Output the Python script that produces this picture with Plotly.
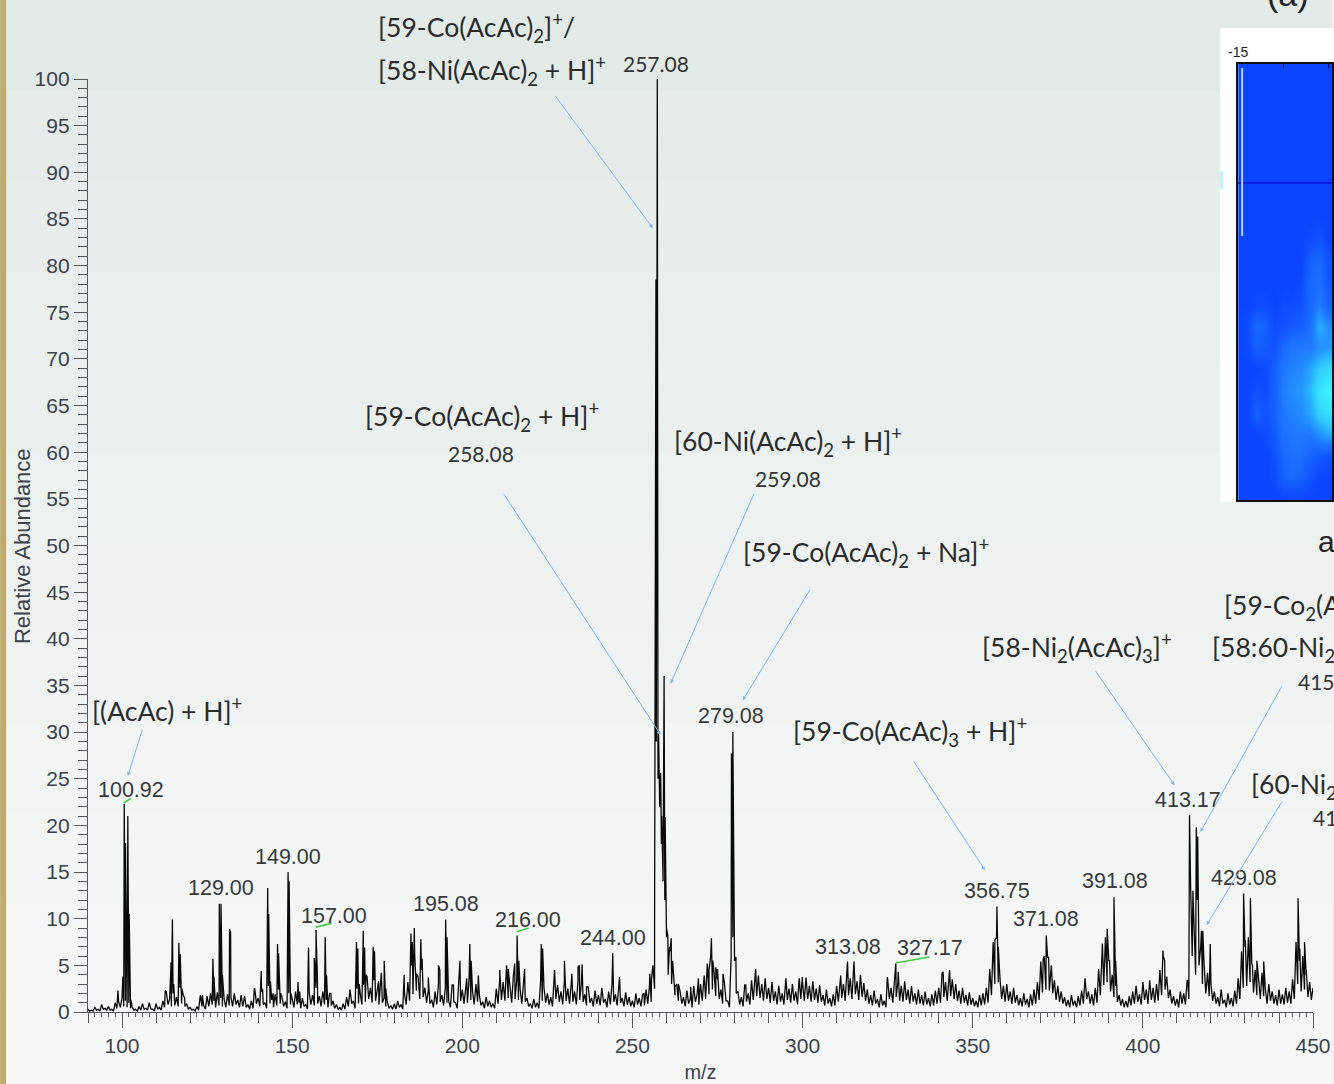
import plotly.graph_objects as go

# ---------------- spectrum data ----------------
# baseline noise sampled at every integer m/z from 90 to 450
baseline_noise = [
    0.3, 0.2, 0.5, 0.3, 0.8, 0.4, 0.6, 0.3, 1.0, 1.1,   # 90
    1.5, 1.2, 1.0, 0.5, 0.3, 0.6, 0.9, 0.4, 1.0, 0.3,   # 100
    0.9, 0.5, 1.2, 2.2, 1.4, 2.0, 1.6, 2.6, 1.8, 0.9,   # 110
    0.5, 0.3, 0.6, 1.8, 0.7, 1.7, 2.0, 1.2, 2.1, 1.5,   # 120
    1.4, 1.9, 1.6, 2.0, 1.3, 1.8, 1.7, 0.8, 1.2, 2.5,   # 130
    1.5, 2.2, 1.0, 2.8, 1.3, 1.9, 2.4, 1.6, 1.1, 2.0,   # 140
    1.4, 2.2, 1.0, 1.5, 0.8, 2.1, 1.8, 2.6, 1.7, 2.2,   # 150
    1.3, 2.0, 1.2, 0.8, 0.5, 0.9, 1.6, 2.4, 1.2, 2.5,   # 160
    2.0, 2.9, 3.8, 2.6, 3.4, 2.2, 2.8, 1.5, 1.0, 0.7,   # 170
    0.9, 1.2, 0.8, 2.0, 3.2, 5.0, 6.2, 3.8, 4.5, 2.6,   # 180
    2.3, 1.3, 2.2, 3.0, 1.8, 2.6, 1.2, 2.9, 1.0, 3.3,   # 190
    2.4, 2.8, 3.6, 2.2, 3.0, 1.8, 1.1, 1.6, 1.2, 0.9,   # 200
    2.5, 3.6, 3.2, 4.0, 2.8, 3.9, 3.5, 2.4, 3.1, 1.5,   # 210
    0.9, 1.4, 1.0, 3.2, 2.6, 2.0, 1.6, 3.8, 2.9, 2.2,   # 220
    3.3, 2.5, 3.0, 2.2, 3.4, 3.1, 1.9, 2.7, 1.5, 2.3,   # 230
    1.8, 2.6, 1.4, 2.2, 3.0, 1.9, 2.8, 1.5, 2.1, 1.6,   # 240
    1.2, 2.0, 1.5, 1.9, 2.4, 2.8, 5.0, 29.0, 22.0, 14.0,  # 250
    9.0, 6.5, 4.0, 3.0, 2.2, 1.6, 2.3, 1.4, 2.8, 1.9,   # 260
    3.0, 3.6, 4.8, 6.0, 4.2, 3.5, 2.4, 3.2, 1.2, 6.0,   # 270
    5.5, 2.2, 1.6, 2.9, 2.0, 3.4, 4.4, 3.8, 3.0, 3.6,   # 280
    2.6, 3.2, 2.2, 2.8, 2.0, 3.4, 2.5, 3.0, 2.2, 3.6,   # 290
    3.1, 3.7, 2.8, 3.3, 2.5, 2.9, 1.8, 2.4, 1.5, 1.9,   # 300
    2.8, 3.8, 3.0, 4.6, 3.6, 4.9, 3.3, 4.0, 3.1, 2.4,   # 310
    1.8, 2.3, 1.4, 1.9, 1.2, 3.5, 2.6, 4.0, 3.2, 2.8,   # 320
    3.3, 2.4, 2.8, 2.0, 2.4, 1.8, 2.2, 1.5, 1.9, 2.3,   # 330
    2.6, 4.2, 3.2, 4.4, 3.5, 3.0, 2.3, 2.6, 1.8, 2.1,   # 340
    1.5, 1.2, 1.8, 2.0, 2.6, 4.6, 7.5, 8.0, 3.6, 2.8,   # 350
    3.0, 2.2, 2.6, 1.8, 1.5, 2.0, 1.4, 1.9, 2.4, 3.2,   # 360
    5.4, 6.0, 5.8, 5.0, 3.4, 2.8, 2.2, 1.6, 1.3, 1.8,   # 370
    1.2, 1.7, 2.3, 3.6, 2.2, 1.9, 2.6, 4.6, 7.2, 8.0,   # 380
    5.5, 4.0, 2.8, 1.8, 1.4, 1.2, 1.7, 2.2, 2.8, 1.9,   # 390
    3.2, 2.4, 3.4, 2.6, 3.0, 4.5, 6.0, 3.8, 2.4, 1.7,   # 400
    1.4, 2.2, 2.0, 3.4, 14.0, 9.5, 12.0, 7.0, 5.0, 4.2,  # 410
    3.0, 2.2, 1.6, 2.4, 1.3, 2.0, 1.5, 2.3, 3.6, 6.5,   # 420
    7.0, 8.0, 5.2, 4.5, 3.6, 4.2, 2.4, 3.0, 2.2, 1.8,   # 430
    2.4, 1.9, 2.6, 2.2, 3.5, 7.5, 5.5, 6.0, 4.0, 3.2,   # 440
    2.6,                                                # 450
]
baseline_mz = list(range(90, 451))

# noise valleys sampled halfway between integer m/z (90.5 ... 449.5)
valley_noise = [
    0.1, 0.1, 0.2, 0.1, 0.3, 0.2, 0.2, 0.1, 0.4, 0.5,   # 90.5
    0.6, 0.5, 0.4, 0.2, 0.1, 0.2, 0.3, 0.2, 0.3, 0.1,   # 100.5
    0.3, 0.2, 0.5, 0.8, 0.6, 0.7, 0.6, 0.9, 0.6, 0.3,   # 110.5
    0.2, 0.1, 0.2, 0.6, 0.3, 0.6, 0.8, 0.5, 0.7, 0.6,   # 120.5
    0.5, 0.7, 0.6, 0.8, 0.5, 0.6, 0.5, 0.3, 0.4, 0.9,   # 130.5
    0.6, 0.8, 0.4, 0.9, 0.5, 0.7, 0.9, 0.6, 0.4, 0.8,   # 140.5
    0.5, 0.8, 0.4, 0.6, 0.3, 0.8, 0.7, 0.9, 0.6, 0.8,   # 150.5
    0.5, 0.7, 0.4, 0.3, 0.2, 0.3, 0.6, 0.9, 0.4, 0.9,   # 160.5
    0.8, 1.1, 1.4, 1.0, 1.2, 0.8, 1.0, 0.6, 0.4, 0.3,   # 170.5
    0.3, 0.5, 0.3, 0.8, 1.2, 1.9, 2.3, 1.4, 1.6, 1.0,   # 180.5
    0.9, 0.5, 0.8, 1.1, 0.7, 1.0, 0.5, 1.1, 0.4, 1.2,   # 190.5
    0.9, 1.0, 1.3, 0.8, 1.1, 0.7, 0.4, 0.6, 0.5, 0.4,   # 200.5
    0.9, 1.3, 1.2, 1.5, 1.0, 1.4, 1.3, 0.9, 1.1, 0.6,   # 210.5
    0.4, 0.5, 0.4, 1.2, 1.0, 0.8, 0.6, 1.4, 1.1, 0.8,   # 220.5
    1.2, 0.9, 1.1, 0.8, 1.3, 1.1, 0.7, 1.0, 0.6, 0.9,   # 230.5
    0.7, 1.0, 0.5, 0.8, 1.1, 0.7, 1.0, 0.6, 0.8, 0.6,   # 240.5
    0.5, 0.8, 0.6, 0.7, 0.9, 1.1, 2.5, 25.0, 18.0, 12.0,  # 250.5
    4.0, 3.0, 1.8, 1.2, 0.9, 0.6, 0.9, 0.5, 1.1, 0.8,   # 260.5
    1.2, 1.4, 1.9, 2.4, 1.7, 1.4, 0.9, 1.2, 0.5, 8.0,   # 270.5
    2.0, 0.8, 0.6, 1.1, 0.8, 1.3, 1.7, 1.5, 1.2, 1.4,   # 280.5
    1.0, 1.2, 0.8, 1.1, 0.8, 1.3, 1.0, 1.2, 0.8, 1.4,   # 290.5
    1.2, 1.4, 1.1, 1.3, 1.0, 1.1, 0.7, 0.9, 0.6, 0.7,   # 300.5
    1.1, 1.5, 1.2, 1.8, 1.4, 1.9, 1.3, 1.6, 1.2, 0.9,   # 310.5
    0.7, 0.9, 0.5, 0.7, 0.5, 1.4, 1.0, 1.6, 1.2, 1.1,   # 320.5
    1.3, 0.9, 1.1, 0.8, 0.9, 0.7, 0.8, 0.6, 0.7, 0.9,   # 330.5
    1.0, 1.6, 1.2, 1.7, 1.4, 1.2, 0.9, 1.0, 0.7, 0.8,   # 340.5
    0.6, 0.5, 0.7, 0.8, 1.0, 1.8, 3.0, 3.2, 1.4, 1.1,   # 350.5
    1.2, 0.9, 1.0, 0.7, 0.6, 0.8, 0.5, 0.7, 0.9, 1.3,   # 360.5
    2.1, 2.4, 2.3, 2.0, 1.3, 1.1, 0.9, 0.6, 0.5, 0.7,   # 370.5
    0.5, 0.7, 0.9, 1.4, 0.9, 0.7, 1.0, 1.8, 2.9, 3.2,   # 380.5
    2.2, 1.6, 1.1, 0.7, 0.5, 0.5, 0.7, 0.9, 1.1, 0.8,   # 390.5
    1.3, 0.9, 1.3, 1.0, 1.2, 1.8, 2.4, 1.5, 0.9, 0.7,   # 400.5
    0.5, 0.9, 0.8, 1.4, 6.0, 4.0, 5.0, 3.0, 2.0, 1.7,   # 410.5
    1.2, 0.9, 0.6, 0.9, 0.5, 0.8, 0.6, 0.9, 1.4, 2.6,   # 420.5
    2.8, 3.2, 2.1, 1.8, 1.4, 1.7, 0.9, 1.2, 0.9, 0.7,   # 430.5
    0.9, 0.8, 1.0, 0.9, 1.4, 3.0, 2.2, 2.4, 1.6, 1.3,   # 440.5
]
valley_mz = [m + 0.5 for m in range(90, 450)]

peak_mz = [
    98.8, 100.25, 100.65, 100.85, 101.0, 101.3, 101.7, 102.1, 102.6,
    112.7, 114.4, 114.8, 115.2, 116.7, 117.1, 117.6, 118.4,
    123.6, 124.9, 126.7, 127.0, 128.6, 128.85, 129.1, 129.5, 131.6, 131.9,
    138.9, 140.9, 141.3, 142.8, 143.1, 143.6, 144.4, 145.7, 146.0, 146.6,
    148.8, 149.1, 149.6, 151.7, 152.2, 154.8, 156.5, 157.0, 157.4, 159.7, 160.1, 161.4,
    166.8, 168.9, 169.3, 169.7, 170.9, 171.3, 171.7, 173.8, 174.2, 175.4, 176.2, 177.05, 177.5,
    182.9, 184.9, 185.3, 185.9, 186.5, 187.8, 188.2, 190.0, 193.0, 193.4, 195.1, 195.5,
    197.4, 199.3, 201.3, 202.2, 202.6, 204.7,
    211.0, 213.0, 213.5, 215.4, 216.1, 216.6, 218.3, 223.2, 223.6, 227.1, 230.0,
    232.2, 234.0, 234.4, 235.2, 236.5, 244.2, 246.2,
    253.4, 255.1, 255.6, 256.5, 256.9, 257.3, 257.5, 257.7, 258.0, 258.3, 258.6,
    259.0, 259.3, 259.6, 260.0, 260.4, 260.9, 261.4, 261.8, 262.5, 263.5,
    267.1, 269.4, 271.1, 272.0, 272.5, 273.2, 273.6, 274.5, 275.0, 276.6,
    279.1, 279.5, 279.9, 280.4, 283.3, 286.2, 287.0, 295.1, 299.9,
    311.2, 313.2, 315.1, 324.9, 327.4, 328.1,
    341.3, 343.2, 355.8, 356.5, 357.1, 357.5,
    370.7, 371.6, 372.3, 373.1,
    388.1, 388.8, 389.5, 390.2, 391.5, 392.0,
    405.9, 406.4,
    413.2, 413.7, 414.2, 414.7, 415.2, 415.7, 416.1, 416.6, 417.2, 417.6, 418.2, 419.8,
    429.6, 430.1, 430.8, 431.6, 432.2, 433.5, 435.5,
    445.6, 446.1, 446.8, 447.5, 448.0, 449.8,
]
peak_intensity = [
    2.3, 3.8, 22.3, 8.0, 18.1, 6.0, 21.0, 10.5, 1.3,
    2.3, 5.3, 9.9, 3.0, 7.4, 6.2, 2.5, 1.5,
    1.8, 1.7, 5.7, 3.8, 11.6, 4.0, 11.6, 4.0, 8.9, 8.5,
    2.5, 4.4, 2.5, 13.3, 10.5, 3.3, 2.0, 7.3, 6.3, 2.0,
    15.0, 14.0, 2.0, 3.2, 2.2, 6.9, 5.8, 8.8, 4.0, 8.0, 4.0, 2.0,
    2.3, 7.5, 6.8, 3.0, 8.7, 6.9, 4.0, 7.0, 6.5, 3.3, 4.2, 5.5, 2.5,
    4.0, 8.4, 7.5, 9.0, 4.1, 7.8, 5.7, 3.7, 5.0, 4.5, 9.9, 8.0,
    2.9, 5.5, 3.6, 7.3, 5.5, 3.9,
    4.5, 5.0, 4.6, 5.2, 8.2, 5.5, 4.6, 7.3, 6.8, 4.5, 5.5,
    4.1, 4.8, 5.0, 5.1, 2.7, 6.3, 3.75,
    2.0, 4.1, 3.5, 9.0, 78.5, 100.0, 30.0, 29.5, 24.5, 25.6, 21.0,
    15.0, 36.0, 20.9, 8.0, 8.2, 7.0, 7.9, 5.5, 2.7, 3.0,
    2.7, 3.6, 3.9, 5.2, 4.5, 7.9, 5.5, 4.8, 4.6, 4.1,
    27.7, 30.0, 10.2, 5.9, 2.9, 4.6, 3.9, 3.6, 3.75,
    3.9, 5.4, 5.4, 3.75, 5.2, 4.3,
    4.3, 4.5, 5.0, 7.7, 11.3, 7.0,
    5.7, 8.2, 5.9, 5.0,
    7.3, 7.7, 8.9, 5.5, 12.3, 5.5,
    6.6, 5.5,
    3.4, 21.1, 11.6, 13.0, 5.0, 19.8, 18.8, 5.5, 8.7, 8.7, 4.0, 7.3,
    12.7, 7.7, 6.5, 12.2, 5.0, 5.5, 5.4,
    12.2, 6.8, 6.0, 7.5, 4.5, 2.3,
]

# peak value labels (Arial-style, from the instrument software)
mz_labels = ["100.92", "129.00", "149.00", "157.00", "195.08", "216.00", "244.00",
             "279.08", "313.08", "327.17", "356.75", "371.08", "391.08", "413.17", "429.08"]
mz_label_x = [102.5, 129.0, 148.9, 162.2, 195.1, 219.2, 244.2,
              279.1, 313.2, 337.3, 357.0, 371.4, 391.7, 413.4, 429.6]
mz_label_y = [23.8, 13.3, 16.6, 10.3, 11.6, 9.9, 7.9,
              31.7, 7.0, 6.9, 13.0, 10.0, 14.0, 22.7, 14.4]

# species assignments (Calibri-style) inside the plot range
species_text = [
    "[59-Co(AcAc)<sub>2</sub> + H]<sup>+</sup>",
    "[60-Ni(AcAc)<sub>2</sub> + H]<sup>+</sup>",
    "[59-Co(AcAc)<sub>2</sub> + Na]<sup>+</sup>",
    "[(AcAc) + H]<sup>+</sup>",
    "[59-Co(AcAc)<sub>3</sub> + H]<sup>+</sup>",
    "[58-Ni<sub>2</sub>(AcAc)<sub>3</sub>]<sup>+</sup>",
    "[59-Co<sub>2</sub>(AcAc)<sub>3</sub>]<sup>+</sup>/",
    "[58:60-Ni<sub>2</sub>(AcAc)<sub>3</sub> + H]<sup>+</sup>",
    "[60-Ni<sub>2</sub>(AcAc)<sub>3</sub> + H]<sup>+</sup>",
]
species_x = [205.7, 295.6, 318.5, 90.5, 331.5, 380.6, 423.3, 419.8, 431.1]
species_y = [63.8, 61.1, 49.2, 32.4, 30.1, 39.1, 43.6, 39.1, 24.4]
species_anchor = ["center", "center", "center", "left", "center",
                  "center", "left", "left", "left"]

# base-peak assignment above the plot top (pixel placement in the page)
top_text = ["[59-Co(AcAc)<sub>2</sub>]<sup>+</sup>/",
            "[58-Ni(AcAc)<sub>2</sub> + H]<sup>+</sup>"]
top_px = [376, 376]
top_py = [28, 70]

# exact-mass labels under species (Calibri-style)
mass_text = ["258.08", "259.08", "415.08", "417.08"]
mass_x = [205.4, 295.6, 444.9, 449.5]
mass_y = [59.9, 57.2, 35.4, 20.8]
mass_anchor = ["center", "center", "left", "left"]
base_mass_text = "257.08"
base_mass_px, base_mass_py = 657, 64

# annotation arrows: (tail m/z, tail int) -> (head m/z, head int)
arrow_tail_x = [227.1, 211.9, 285.9, 302.4, 332.4, 385.8, 441.1, 441.1, 106.1]
arrow_tail_y = [98.3, 55.7, 55.7, 45.4, 27.0, 36.7, 35.1, 22.7, 30.4]
arrow_head_x = [256.0, 258.3, 261.2, 282.4, 353.6, 409.3, 416.9, 418.7, 101.7]
arrow_head_y = [84.0, 29.7, 35.2, 33.4, 15.2, 24.3, 19.3, 9.3, 25.3]

# green label connectors
green_x0 = [100.5, 156.9, 216.0, 327.3]
green_y0 = [22.4, 9.1, 8.6, 5.25]
green_x1 = [102.6, 161.6, 219.5, 337.3]
green_y1 = [22.9, 9.5, 9.0, 5.9]

# inset heat map (partially visible)
inset_x = [-15, -14.5, -14, -13.5, -13, -12.5, -12, -11.5, -11, -10.5, -10, -9.5]
inset_y = list(range(0, 21))
inset_z = [
    [0, 0, 0, 0, 0, 0, 0, 0, 0, 0, 0, 0],
    [0, 0, 0, 0, 0.05, 0.2, 0.25, 0.2, 0.1, 0, 0, 0],
    [0, 0, 0, 0, 0.1, 0.25, 0.3, 0.3, 0.2, 0.15, 0.1, 0.1],
    [0, 0, 0, 0.05, 0.15, 0.3, 0.35, 0.35, 0.35, 0.45, 0.55, 0.5],
    [0, 0, 0.2, 0.1, 0.2, 0.35, 0.4, 0.45, 0.55, 0.8, 0.9, 0.85],
    [0, 0, 0.1, 0.05, 0.2, 0.4, 0.45, 0.5, 0.65, 0.9, 1.0, 0.95],
    [0, 0, 0, 0.05, 0.2, 0.35, 0.4, 0.45, 0.55, 0.75, 0.85, 0.8],
    [0, 0.05, 0.2, 0.15, 0.1, 0.25, 0.35, 0.35, 0.35, 0.45, 0.5, 0.45],
    [0, 0.05, 0.25, 0.2, 0.05, 0.1, 0.15, 0.2, 0.3, 0.6, 0.45, 0.35],
    [0, 0, 0.05, 0.05, 0, 0.05, 0.05, 0.1, 0.25, 0.35, 0.2, 0.15],
    [0, 0, 0, 0, 0, 0, 0, 0.05, 0.25, 0.3, 0.15, 0.1],
    [0, 0, 0, 0, 0, 0, 0, 0, 0.2, 0.25, 0.1, 0.05],
    [0, 0, 0, 0, 0, 0, 0, 0, 0.05, 0.1, 0, 0],
    [0] * 12, [0] * 12, [0] * 12, [0] * 12, [0] * 12, [0] * 12, [0] * 12, [0] * 12,
]

bg_band_colors = ["#e3ebe8", "#e5ece9", "#e7eeeb", "#e9efec", "#eaf0ee", "#ecf2ef",
                  "#eef3f1", "#eff4f2", "#f1f5f4", "#f2f6f5", "#f4f7f6", "#f5f8f7"]

# ---------------- build ----------------
pts = sorted(zip(baseline_mz + valley_mz + peak_mz,
                 baseline_noise + valley_noise + peak_intensity))
spec_x = [p[0] for p in pts]
spec_y = [p[1] for p in pts]

W, H = 1334, 1084
ML, MR, MT, MB = 88, 0, 0, 72
PW, PH = W - ML - MR, H - MT - MB


def px(x):
    return (x - ML) / PW


def py(y):
    return (H - MB - y) / PH


ARIAL = "Liberation Sans, Arial, sans-serif"
CALIBRI = "Lato, Carlito, Calibri, sans-serif"
AXC = "#555a5e"
TXT = "#3d4248"

fig = go.Figure()
fig.add_trace(go.Scatter(x=spec_x, y=spec_y, mode="lines",
                         line=dict(color="#0a0a0a", width=1.3),
                         xaxis="x", yaxis="y", hoverinfo="skip"))
fig.add_trace(go.Scatter(x=[90], y=[0], mode="markers", marker=dict(opacity=0),
                         xaxis="x3", yaxis="y", hoverinfo="skip"))
fig.add_trace(go.Heatmap(x=inset_x, y=inset_y, z=inset_z, xaxis="x2", yaxis="y2",
                         zmin=0, zmax=1, zsmooth="best", showscale=False,
                         colorscale=[[0, "#0a44ff"], [0.35, "#1e78ff"],
                                     [0.7, "#2fc4ff"], [1, "#3cf2ff"]],
                         hoverinfo="skip"))

shapes = []
nb = len(bg_band_colors)
top_p, bot_p = py(0), py(H)
for i, c in enumerate(bg_band_colors):
    y1 = top_p - (top_p - bot_p) * i / nb
    y0 = top_p - (top_p - bot_p) * (i + 1) / nb
    shapes.append(dict(type="rect", xref="paper", yref="paper", x0=px(0), x1=px(W),
                       y0=y0 - 0.002, y1=y1, fillcolor=c, line=dict(width=0), layer="below"))
shapes.append(dict(type="rect", xref="paper", yref="paper", x0=px(0), x1=px(6),
                   y0=py(H), y1=py(0), fillcolor="#bcad6c", line=dict(width=0), layer="below"))
shapes.append(dict(type="rect", xref="paper", yref="paper", x0=px(1222), x1=px(W + 5),
                   y0=py(502), y1=py(28), fillcolor="#ffffff", line=dict(width=0), layer="below"))
shapes.append(dict(type="rect", xref="paper", yref="paper", x0=px(1222), x1=px(1225),
                   y0=py(189), y1=py(171), fillcolor="#bff2f8", line=dict(width=0), layer="below"))
shapes.append(dict(type="line", xref="paper", yref="paper", x0=px(1240), x1=px(W),
                   y0=py(183), y1=py(183), line=dict(color="#0a12d8", width=1.5), layer="above"))
shapes.append(dict(type="line", xref="paper", yref="paper", x0=px(1244), x1=px(1244),
                   y0=py(236), y1=py(68), line=dict(color="#c4cbd8", width=2), layer="above"))
for a, b, c, d in zip(green_x0, green_y0, green_x1, green_y1):
    shapes.append(dict(type="line", xref="x", yref="y", x0=a, y0=b, x1=c, y1=d,
                       line=dict(color="#3fcf45", width=1.6), layer="above"))

ann = []
for t, x, y in zip(mz_labels, mz_label_x, mz_label_y):
    ann.append(dict(text=t, x=x, y=y, xref="x", yref="y", showarrow=False,
                    font=dict(family=ARIAL, size=21.5, color="#383838"),
                    xanchor="center", yanchor="middle"))
for t, x, y, a in zip(species_text, species_x, species_y, species_anchor):
    ann.append(dict(text=t, x=x, y=y, xref="x", yref="y", showarrow=False,
                    font=dict(family=CALIBRI, size=26.5, color="#2b2b2b"),
                    xanchor=a, yanchor="middle"))
for t, x, y in zip(top_text, top_px, top_py):
    ann.append(dict(text=t, x=px(x), y=py(y), xref="paper", yref="paper", showarrow=False,
                    font=dict(family=CALIBRI, size=26.5, color="#2b2b2b"),
                    xanchor="left", yanchor="middle"))
for t, x, y, a in zip(mass_text, mass_x, mass_y, mass_anchor):
    ann.append(dict(text=t, x=x, y=y, xref="x", yref="y", showarrow=False,
                    font=dict(family=CALIBRI, size=21, color="#333333"),
                    xanchor=a, yanchor="middle"))
ann.append(dict(text=base_mass_text, x=px(base_mass_px), y=py(base_mass_py),
                xref="paper", yref="paper", showarrow=False,
                font=dict(family=CALIBRI, size=21, color="#333333"),
                xanchor="center", yanchor="middle"))
for tx, ty, hx, hy in zip(arrow_tail_x, arrow_tail_y, arrow_head_x, arrow_head_y):
    ann.append(dict(text="", x=hx, y=hy, ax=tx, ay=ty, xref="x", yref="y",
                    axref="x", ayref="y", showarrow=True, arrowhead=2,
                    arrowsize=0.8, arrowwidth=1, arrowcolor="#86b4e4", standoff=0))
# y-axis title placed as rotated text
ann.append(dict(text="Relative Abundance", x=px(22), y=py(546), xref="paper", yref="paper",
                showarrow=False, textangle=-90,
                font=dict(family=ARIAL, size=22, color=TXT),
                xanchor="center", yanchor="middle"))
ann.append(dict(text="(a)", x=px(1290), y=py(-6), xref="paper", yref="paper",
                showarrow=False, font=dict(family=ARIAL, size=34, color="#222"),
                xanchor="center", yanchor="middle"))
ann.append(dict(text="a", x=px(1318), y=py(541), xref="paper", yref="paper",
                showarrow=False, font=dict(family=ARIAL, size=30, color="#222"),
                xanchor="left", yanchor="middle"))

fig.update_layout(
    width=W, height=H,
    margin=dict(l=ML, r=MR, t=MT, b=MB),
    paper_bgcolor="#eef3f1", plot_bgcolor="rgba(0,0,0,0)",
    showlegend=False,
    shapes=shapes, annotations=ann,
    xaxis=dict(domain=[0, px(1315)], range=[90, 450], anchor="y",
               tickvals=[100, 150, 200, 250, 300, 350, 400, 450],
               ticks="outside", ticklen=15, tickwidth=1.2, tickcolor=AXC,
               showline=True, linecolor=AXC, linewidth=1.3,
               showgrid=False, zeroline=False,
               tickfont=dict(family=ARIAL, size=21, color=TXT),
               minor=dict(tickmode="linear", tick0=90, dtick=2, ticklen=4,
                          ticks="outside", tickcolor=AXC, tickwidth=1),
               title=dict(text="m/z", font=dict(family=ARIAL, size=20, color=TXT), standoff=8),
               automargin=False),
    xaxis3=dict(overlaying="x", anchor="y", range=[90, 450],
                tickvals=list(range(90, 451, 10)), ticks="outside", ticklen=10,
                tickwidth=1.2, tickcolor=AXC, showticklabels=False,
                showline=False, showgrid=False, zeroline=False),
    yaxis=dict(domain=[0, py(79)], range=[0, 100], anchor="x",
               tickvals=list(range(0, 101, 5)),
               ticks="outside", ticklen=13, tickwidth=1.2, tickcolor=AXC,
               showline=True, linecolor=AXC, linewidth=1.3,
               showgrid=False, zeroline=False,
               tickfont=dict(family=ARIAL, size=21, color=TXT),
               minor=dict(tickmode="linear", tick0=0, dtick=1, ticklen=9,
                          ticks="outside", tickcolor=AXC, tickwidth=1),
               automargin=False),
    xaxis2=dict(domain=[px(1240), 1.0], range=[-15, -9.778], anchor="y2", side="top",
                tickvals=[-15, -12.5, -10], ticktext=["-15", "", "-10"],
                ticks="inside", ticklen=4, tickcolor="#111",
                showline=True, linecolor="#111", linewidth=1.5, mirror=True,
                showgrid=False, zeroline=False,
                tickfont=dict(family=ARIAL, size=14, color="#222")),
    yaxis2=dict(domain=[py(500), py(64)], range=[0, 20], anchor="x2",
                showticklabels=False, ticks="",
                showline=True, linecolor="#111", linewidth=1.5, mirror=True,
                showgrid=False, zeroline=False),
)

fig.write_html("out.html",
               config={"displayModeBar": False},
               post_script="document.body.style.margin='0px';"
                           "document.body.style.overflow='hidden';")
